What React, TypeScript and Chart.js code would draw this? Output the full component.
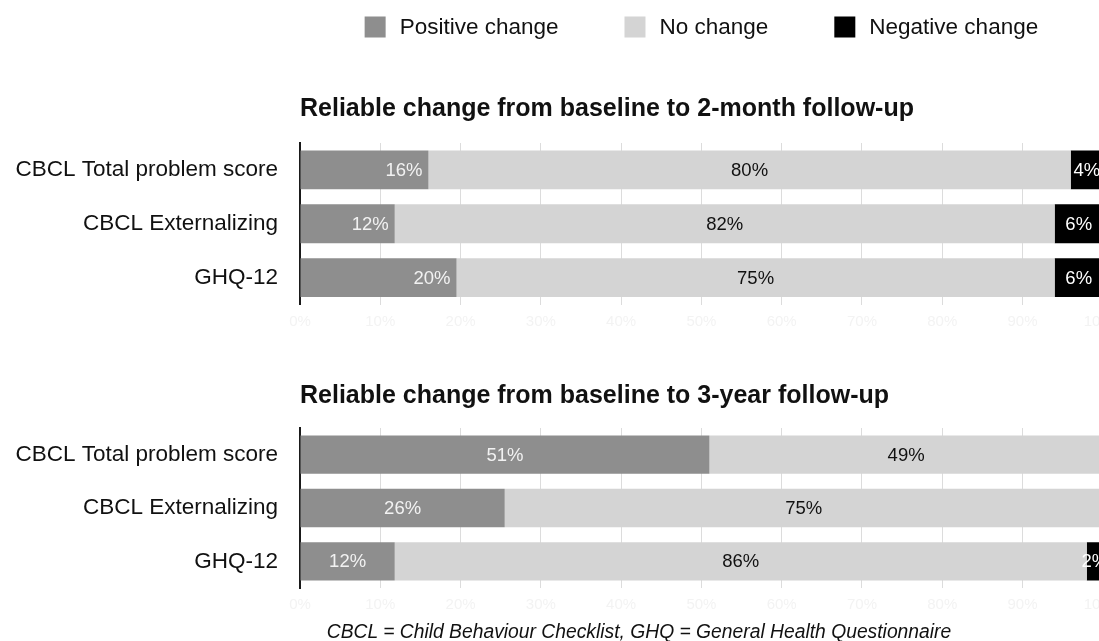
import React, { useEffect, useRef } from "react";
import { Chart, registerables } from "chart.js";

Chart.register(...registerables);

const FONT = '"Liberation Sans", Arial, Helvetica, sans-serif';
Chart.defaults.font.family = FONT;

const categories = ["CBCL Total problem score", "CBCL Externalizing", "GHQ-12"];
const seriesNames = ["Positive change", "No change", "Negative change"];
const seriesColors = ["#8e8e8e", "#d4d4d4", "#000000"];
const valueLabelColors = ["#f2f2f2", "#111111", "#ffffff"];

const panel1Title = "Reliable change from baseline to 2-month follow-up";
const panel1Positive = [16, 11.8, 19.5];
const panel1NoChange = [80, 82.2, 74.5];
const panel1Negative = [4, 6, 6];

const panel2Title = "Reliable change from baseline to 3-year follow-up";
const panel2Positive = [51, 25.5, 11.8];
const panel2NoChange = [49, 74.5, 86.2];
const panel2Negative = [0, 0, 2];

const xMin = 0;
const xMax = 100;
const xStep = 10;

const footnote = "CBCL = Child Behaviour Checklist, GHQ = General Health Questionnaire";

const valueLabels = {
  id: "valueLabels",
  afterDatasetsDraw(chart: any, _args: any, opts: any) {
    const ctx = chart.ctx;
    ctx.save();
    ctx.font = `18.5px ${FONT}`;
    ctx.textBaseline = "middle";
    chart.data.datasets.forEach((ds: any, di: number) => {
      const meta = chart.getDatasetMeta(di);
      meta.data.forEach((bar: any, i: number) => {
        const v = ds.data[i] as number;
        if (!v) return;
        const p = bar.getProps(["x", "y", "base"], true);
        ctx.fillStyle = valueLabelColors[di];
        if (di === 0 && opts && opts.positiveAtEnd) {
          ctx.textAlign = "right";
          ctx.fillText(Math.round(v) + "%", p.x - 6, p.y + 1);
        } else {
          ctx.textAlign = "center";
          ctx.fillText(Math.round(v) + "%", (p.x + p.base) / 2, p.y + 1);
        }
      });
    });
    ctx.restore();
  },
};

const topLegend = {
  id: "topLegend",
  afterDraw(chart: any, _args: any, opts: any) {
    if (!opts || !opts.show) return;
    const ctx = chart.ctx;
    ctx.save();
    ctx.font = `22.5px ${FONT}`;
    const box = 21;
    const gapText = 14;
    const gapItem = 66;
    const items = chart.data.datasets;
    const widths = items.map((ds: any) => box + gapText + ctx.measureText(ds.label).width);
    const total = widths.reduce((a: number, b: number) => a + b, 0) + gapItem * (widths.length - 1);
    let x = (chart.chartArea.left + chart.chartArea.right) / 2 - total / 2;
    const y = opts.y;
    items.forEach((ds: any, i: number) => {
      ctx.fillStyle = ds.backgroundColor;
      ctx.fillRect(x, y - box / 2, box, box);
      ctx.fillStyle = "#111111";
      ctx.textAlign = "left";
      ctx.textBaseline = "middle";
      ctx.fillText(ds.label, x + box + gapText, y + 1);
      x += widths[i] + gapItem;
    });
    ctx.restore();
  },
};

function makeConfig(
  title: string,
  positive: number[],
  noChange: number[],
  negative: number[],
  extra: { padTop: number; padBottom: number; titleTop: number; titleBottom: number; legend: boolean; positiveAtEnd: boolean }
): any {
  const series = [positive, noChange, negative];
  return {
    type: "bar",
    data: {
      labels: categories,
      datasets: seriesNames.map((name, i) => ({
        label: name,
        data: series[i],
        backgroundColor: seriesColors[i],
        borderWidth: 0,
        barPercentage: 0.72,
        categoryPercentage: 1,
      })),
    },
    options: {
      indexAxis: "y",
      responsive: false,
      animation: false,
      layout: { padding: { top: extra.padTop, bottom: extra.padBottom, left: 0, right: 17 } },
      scales: {
        x: {
          stacked: true,
          min: xMin,
          max: xMax,
          ticks: {
            stepSize: xStep,
            callback: (v: any) => v + "%",
            color: "#f3f3f3",
            font: { size: 15 },
            padding: 8,
            maxRotation: 0,
          },
          grid: { color: "#dcdcdc", lineWidth: 1, drawTicks: false },
          border: { display: false },
        },
        y: {
          stacked: true,
          afterFit: (scale: any) => {
            scale.width = 300;
          },
          ticks: { color: "#111111", font: { size: 22.5 }, padding: 22 },
          grid: { display: false, drawTicks: false },
          border: { display: true, color: "#1a1a1a", width: 2 },
        },
      },
      plugins: {
        legend: { display: false },
        tooltip: { enabled: false },
        title: {
          display: true,
          text: title,
          align: "start",
          fullSize: false,
          color: "#111111",
          font: { size: 25, weight: "bold" },
          padding: { top: extra.titleTop, bottom: extra.titleBottom },
        },
        valueLabels: { positiveAtEnd: extra.positiveAtEnd },
        topLegend: { show: extra.legend, y: 27 },
      },
    },
    plugins: [valueLabels, topLegend],
  };
}

export default function App() {
  const ref1 = useRef<HTMLCanvasElement | null>(null);
  const ref2 = useRef<HTMLCanvasElement | null>(null);

  useEffect(() => {
    const c1 = new Chart(
      ref1.current as HTMLCanvasElement,
      makeConfig(panel1Title, panel1Positive, panel1NoChange, panel1Negative, {
        padTop: 80,
        padBottom: 1,
        titleTop: 14,
        titleBottom: 19,
        legend: true,
        positiveAtEnd: true,
      })
    );
    const c2 = new Chart(
      ref2.current as HTMLCanvasElement,
      makeConfig(panel2Title, panel2Positive, panel2NoChange, panel2Negative, {
        padTop: 29,
        padBottom: 19,
        titleTop: 12,
        titleBottom: 17,
        legend: false,
        positiveAtEnd: false,
      })
    );
    return () => {
      c1.destroy();
      c2.destroy();
    };
  }, []);

  return (
    <div
      style={{
        position: "absolute",
        left: 0,
        top: 0,
        width: 1099,
        height: 641,
        overflow: "hidden",
        background: "#ffffff",
      }}
    >
      <canvas
        ref={ref1}
        width={1130}
        height={340}
        style={{ position: "absolute", left: 0, top: 0, display: "block" }}
      />
      <canvas
        ref={ref2}
        width={1130}
        height={301}
        style={{ position: "absolute", left: 0, top: 340, display: "block" }}
      />
      <div
        style={{
          position: "absolute",
          left: 139,
          top: 620,
          width: 1000,
          textAlign: "center",
          fontFamily: FONT,
          fontStyle: "italic",
          fontSize: 19.3,
          lineHeight: "24px",
          color: "#111111",
          whiteSpace: "nowrap",
        }}
      >
        {footnote}
      </div>
    </div>
  );
}
